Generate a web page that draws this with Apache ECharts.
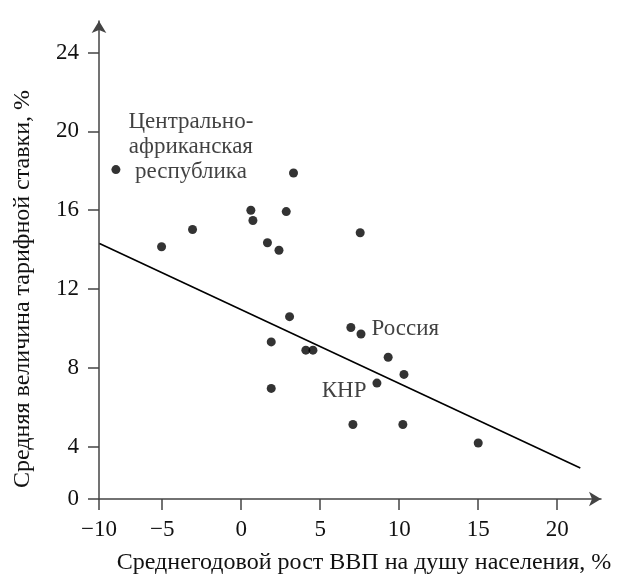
<!DOCTYPE html>
<html>
<head>
<meta charset="utf-8">
<script src="https://cdn.jsdelivr.net/npm/echarts@6/dist/echarts.min.js"></script>
<style>html,body{margin:0;padding:0;background:#fff}#c{width:619px;height:580px}</style>
</head>
<body>
<div id="c"></div>
<script>
// Data
const growthX = [-7.93, 3.31, 0.61, 0.74, 2.85, -3.08, -5.04, 1.66, 2.39, 7.53, 3.06, 6.94, 7.58, 1.90, 4.09, 4.54, 9.30, 10.30, 8.59, 1.90, 7.07, 10.23, 15.0];
const tariffY = [18.06, 17.89, 16.0, 15.48, 15.93, 15.02, 14.15, 14.35, 13.97, 14.86, 10.60, 10.05, 9.72, 9.32, 8.90, 8.90, 8.54, 7.67, 7.23, 6.96, 5.13, 5.13, 4.19];
const trendX = [-8.97, 21.46];
const trendY = [14.31, 2.92];
// Axis ticks (axes are drawn with a break at their origin, as in the reference)
const xTickValues = [-9, -5, 0, 5, 10, 15, 20];
const xTickLabels = ['\u221210', '\u22125', '0', '5', '10', '15', '20'];
const yTickValues = [1.35, 4, 8, 12, 16, 20, 24];
const yTickLabels = ['0', '4', '8', '12', '16', '20', '24'];
const xRange = [-9, 22.77];
const yRange = [1.35, 25.6];
// Annotations
const annotatedIdx = [0, 12, 18];
const annotatedText = ['Центрально-\nафриканская\nреспублика', 'Россия', 'КНР'];
const xName = 'Среднегодовой рост ВВП на душу населения, %';
const yName = 'Средняя величина тарифной ставки, %';

const FONT = "'Liberation Serif', 'Times New Roman', serif";
const AXIS_COLOR = '#444';

const labelStyles = [
  {show: true, position: 'inside', offset: [75, -23], align: 'center', verticalAlign: 'middle', lineHeight: 25},
  {show: true, position: 'right', distance: 6, offset: [0, -5]},
  {show: true, position: 'left', distance: 6, offset: [0, 8]}
];

const points = growthX.map((x, i) => {
  const item = {value: [x, tariffY[i]]};
  const k = annotatedIdx.indexOf(i);
  if (k >= 0) {
    item.label = Object.assign({
      formatter: annotatedText[k],
      color: '#111',
      fontFamily: FONT,
      fontSize: 23
    }, labelStyles[k]);
  }
  return item;
});

function lookup(values, labels, v) {
  for (let i = 0; i < values.length; i++) {
    if (Math.abs(values[i] - v) < 1e-6) return labels[i];
  }
  return '';
}

const chart = echarts.init(document.getElementById('c'), null, {renderer: 'canvas'});
chart.setOption({
  animation: false,
  backgroundColor: '#fff',
  grid: {left: 99, right: 18, top: 21, bottom: 80, containLabel: false},
  xAxis: {
    type: 'value',
    min: xRange[0], max: xRange[1],
    name: xName,
    nameLocation: 'middle',
    nameGap: 52,
    nameTextStyle: {fontFamily: FONT, fontSize: 24, color: '#111', padding: [0, 0, 0, 28]},
    axisLine: {show: true, onZero: false, lineStyle: {color: AXIS_COLOR, width: 1.5}, symbol: ['none', 'arrow'], symbolSize: [11, 12]},
    axisTick: {show: true, inside: false, length: 11, customValues: xTickValues, lineStyle: {color: AXIS_COLOR, width: 1.5}},
    axisLabel: {show: true, margin: 19, customValues: xTickValues, fontFamily: FONT, fontSize: 23, color: '#111',
      formatter: v => lookup(xTickValues, xTickLabels, v)},
    splitLine: {show: false}
  },
  yAxis: {
    type: 'value',
    min: yRange[0], max: yRange[1],
    name: yName,
    nameLocation: 'middle',
    nameGap: 64,
    nameRotate: 90,
    nameTextStyle: {fontFamily: FONT, fontSize: 24, color: '#111', padding: [0, 58, 0, 0]},
    axisLine: {show: true, onZero: false, lineStyle: {color: AXIS_COLOR, width: 1.5}, symbol: ['none', 'arrow'], symbolSize: [11, 12]},
    axisTick: {show: true, inside: false, length: 11, customValues: yTickValues, lineStyle: {color: AXIS_COLOR, width: 1.5}},
    axisLabel: {show: true, margin: 20, customValues: yTickValues, fontFamily: FONT, fontSize: 23, color: '#111',
      formatter: v => lookup(yTickValues, yTickLabels, v)},
    splitLine: {show: false}
  },
  series: [
    {
      type: 'line',
      data: trendX.map((x, i) => [x, trendY[i]]),
      showSymbol: false,
      symbol: 'none',
      lineStyle: {color: '#000', width: 1.6},
      silent: true,
      z: 2
    },
    {
      type: 'scatter',
      data: points,
      symbol: 'circle',
      symbolSize: 9,
      itemStyle: {color: '#000'},
      label: {show: false},
      z: 3
    }
  ]
});
</script>
</body>
</html>
